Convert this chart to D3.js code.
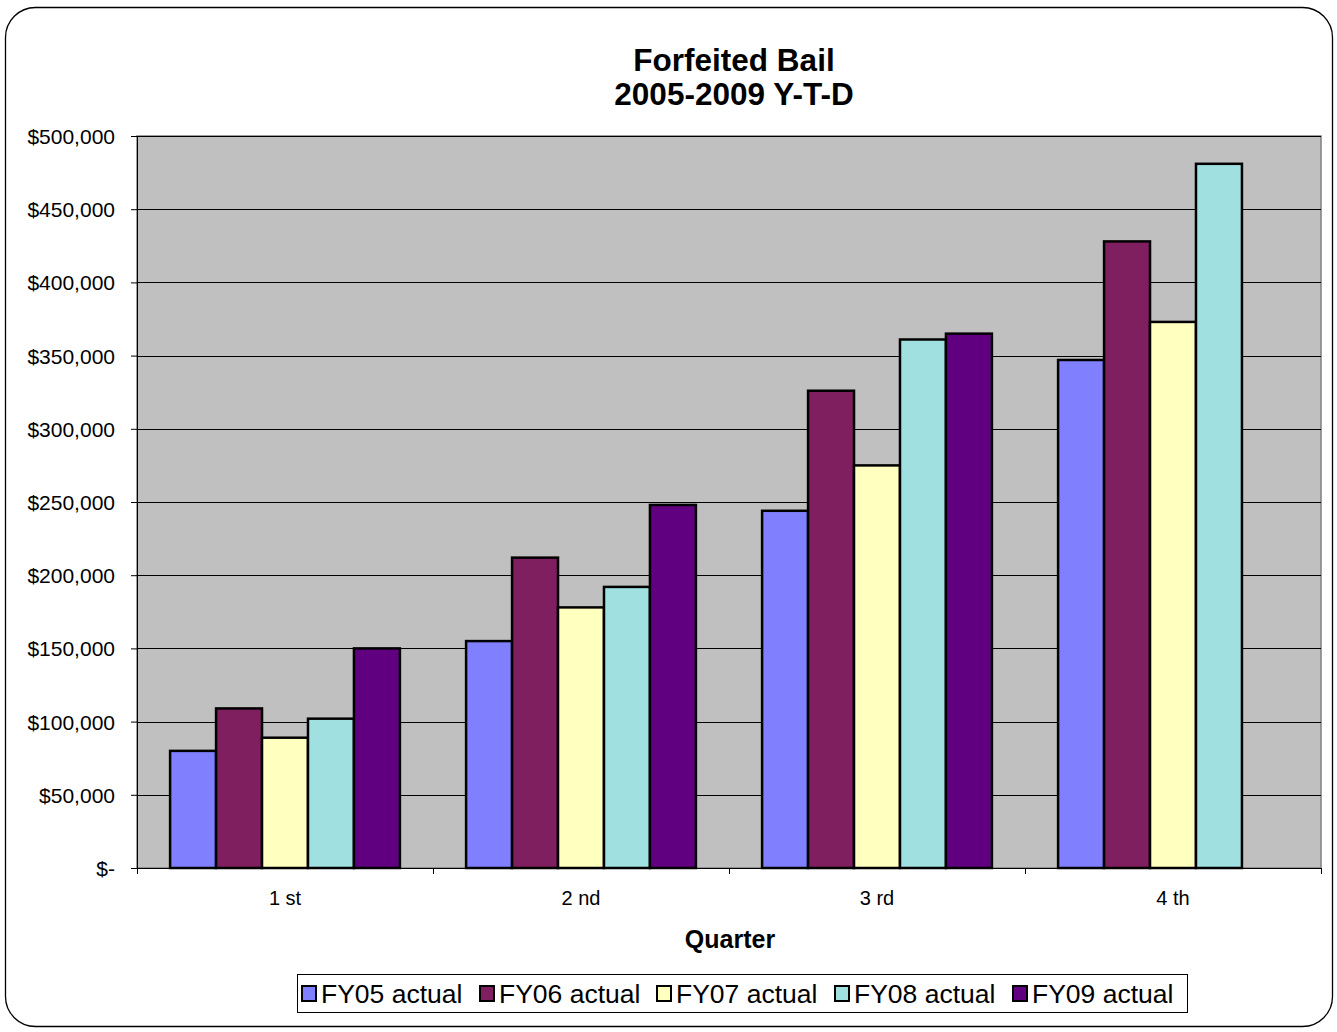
<!DOCTYPE html>
<html>
<head>
<meta charset="utf-8">
<script src="https://cdn.jsdelivr.net/npm/d3@7"></script>
<style>
  body { margin: 0; background: #fff; }
  text { font-family: "Liberation Sans", Arial, sans-serif; }
</style>
</head>
<body>
<div id="chart"></div>
<script>
/* DATA */
const quarters = ["1 st", "2 nd", "3 rd", "4 th"];
const seriesNames = ["FY05 actual", "FY06 actual", "FY07 actual", "FY08 actual", "FY09 actual"];
const fy05 = [80000, 155000, 244000, 347000];
const fy06 = [109000, 212000, 326000, 428000];
const fy07 = [89000, 178000, 275000, 373000];
const fy08 = [102000, 192000, 361000, 481000];
const fy09 = [150000, 248000, 365000, null];
const yTicks = [0, 50000, 100000, 150000, 200000, 250000, 300000, 350000, 400000, 450000, 500000];
const colors = ["#8080ff", "#7f1f5f", "#ffffc0", "#a0e0e0", "#600080"];

const allSeries = [fy05, fy06, fy07, fy08, fy09];

/* CONSTANTS */
const width = 1337;
const height = 1032;
const plot = { left: 137, right: 1321, top: 136, bottom: 868 };

const svg = d3.select("#chart")
    .append("svg")
    .attr("width", width)
    .attr("height", height);

// outer frame
svg.append("rect")
    .attr("x", 5.5).attr("y", 7.5)
    .attr("width", 1327).attr("height", 1019)
    .attr("rx", 30).attr("ry", 30)
    .attr("fill", "#fff")
    .attr("stroke", "#000")
    .attr("stroke-width", 1.3);

/* SCALES */
const xScale = d3.scaleBand()
    .domain(quarters)
    .range([plot.left, plot.right])
    .padding(0);

const xInner = d3.scaleBand()
    .domain(seriesNames)
    .range([0, xScale.bandwidth()])
    .paddingOuter(0.72)
    .paddingInner(0);

const yScale = d3.scaleLinear()
    .domain([0, 500000])
    .range([plot.bottom, plot.top]);

// plot background
svg.append("rect")
    .attr("x", plot.left).attr("y", plot.top)
    .attr("width", plot.right - plot.left)
    .attr("height", plot.bottom - plot.top)
    .attr("fill", "#c0c0c0")
    .attr("stroke", "#808080")
    .attr("stroke-width", 1.5);

// gridlines
svg.append("g")
    .selectAll("line")
    .data(yTicks.filter(d => d > 0))
    .join("line")
    .attr("x1", plot.left).attr("x2", plot.right)
    .attr("y1", d => Math.round(yScale(d)) + 0.5)
    .attr("y2", d => Math.round(yScale(d)) + 0.5)
    .attr("stroke", "#000")
    .attr("stroke-width", 1);

// BARS
const barData = [];
allSeries.forEach((vals, si) => {
    vals.forEach((v, qi) => {
        if (v != null) barData.push({ q: quarters[qi], s: seriesNames[si], v: v, c: colors[si] });
    });
});

svg.append("g")
    .selectAll("rect")
    .data(barData)
    .join("rect")
    .attr("x", d => xScale(d.q) + xInner(d.s))
    .attr("y", d => yScale(d.v))
    .attr("width", xInner.bandwidth())
    .attr("height", d => plot.bottom - yScale(d.v))
    .attr("fill", d => d.c)
    .attr("stroke", "#000")
    .attr("stroke-width", 2.5);

// AXES
const fmt = d => d === 0 ? "$-" : "$" + d3.format(",")(d);
const yAxis = d3.axisLeft(yScale)
    .tickValues(yTicks)
    .tickFormat(fmt)
    .tickSize(6)
    .tickSizeOuter(0);

const gy = svg.append("g")
    .attr("transform", "translate(" + plot.left + ",0)")
    .call(yAxis);
gy.select(".domain").attr("stroke", "#000");
gy.selectAll("line").attr("stroke", "#000");
gy.selectAll("text")
    .attr("x", -22)
    .attr("dy", "0.36em")
    .style("font-size", "21px")
    .style("font-family", "Liberation Sans, Arial, sans-serif")
    .attr("fill", "#000");

// x axis line and boundary ticks
svg.append("line")
    .attr("x1", plot.left - 6).attr("x2", plot.right)
    .attr("y1", plot.bottom + 0.5).attr("y2", plot.bottom + 0.5)
    .attr("stroke", "#000");

const bounds = quarters.map(q => xScale(q)).concat([plot.right]);
svg.append("g")
    .selectAll("line")
    .data(bounds)
    .join("line")
    .attr("x1", d => Math.round(d) + 0.5).attr("x2", d => Math.round(d) + 0.5)
    .attr("y1", plot.bottom).attr("y2", plot.bottom + 6)
    .attr("stroke", "#000");

svg.append("g")
    .selectAll("text")
    .data(quarters)
    .join("text")
    .attr("x", d => xScale(d) + xScale.bandwidth() / 2)
    .attr("y", 905)
    .attr("text-anchor", "middle")
    .style("font-size", "20px")
    .text(d => d);

// LABELS
svg.append("text")
    .attr("x", 734).attr("y", 71)
    .attr("text-anchor", "middle")
    .style("font-size", "31.5px")
    .style("font-weight", "bold")
    .text("Forfeited Bail");

svg.append("text")
    .attr("x", 734).attr("y", 105)
    .attr("text-anchor", "middle")
    .style("font-size", "31.5px")
    .style("font-weight", "bold")
    .text("2005-2009 Y-T-D");

svg.append("text")
    .attr("x", 730).attr("y", 948)
    .attr("text-anchor", "middle")
    .style("font-size", "25px")
    .style("font-weight", "bold")
    .text("Quarter");

// LEGEND
const legend = svg.append("g");
legend.append("rect")
    .attr("x", 297.5).attr("y", 974.5)
    .attr("width", 890).attr("height", 38)
    .attr("fill", "#fff")
    .attr("stroke", "#000");

const itemX = [301, 479, 656, 834, 1012];
const items = legend.selectAll(".item")
    .data(seriesNames)
    .join("g")
    .attr("class", "item")
    .attr("transform", (d, i) => "translate(" + itemX[i] + ",0)");

items.append("rect")
    .attr("x", 1).attr("y", 986)
    .attr("width", 14).attr("height", 15)
    .attr("fill", (d, i) => colors[i])
    .attr("stroke", "#000")
    .attr("stroke-width", 2);

items.append("text")
    .attr("x", 20).attr("y", 1003)
    .style("font-size", "26.5px")
    .text(d => d);
</script>
</body>
</html>
